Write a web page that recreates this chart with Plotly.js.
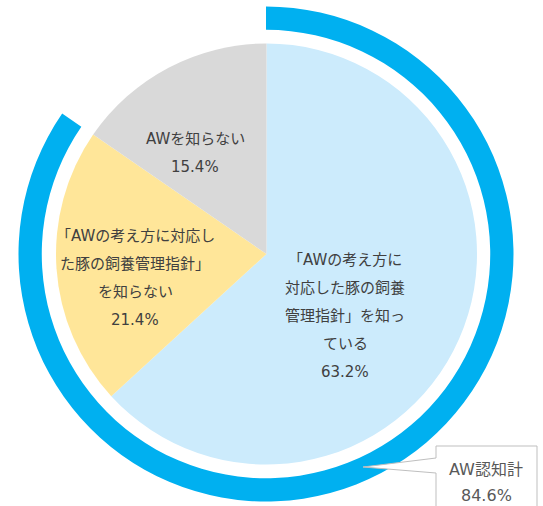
<!DOCTYPE html>
<html>
<head>
<meta charset="utf-8">
<script src="https://cdn.plot.ly/plotly-3.0.1.min.js"></script>
<style>
  html, body { margin: 0; padding: 0; background: #fff; }
  #chart { width: 543px; height: 506px; }
</style>
</head>
<body>
<div id="chart"></div>
<script>
// AW awareness pie: three answer shares plus an outer ring for the combined "aware" total.

const CATEGORIES = [
  ['「AWの考え方に', '対応した豚の飼養', '管理指針」を知っ', 'ている'],
  ['「AWの考え方に対応し', 'た豚の飼養管理指針」', 'を知らない'],
  ['AWを知らない'],
];
const SHARES = [63.2, 21.4, 15.4];
const COLORS = ['#CCEBFC', '#FFE699', '#D9D9D9'];

const RING_LABEL = 'AW認知計';
const RING_VALUES = [84.6, 15.4];   // aware total, remainder (not drawn)

const W = 543, H = 506;
const px = (x) => x / W;
const py = (y) => (H - y) / H;

const FONT = { family: 'DejaVu Sans, "Noto Sans CJK JP", sans-serif', size: 15, color: '#404040' };
const LINE_GAP = 28;

// label block centres in pixels (layout only)
const LABEL_POS = [[345, 316], [135, 278], [195, 153]];

const traces = [
  {
    type: 'pie',
    values: SHARES,
    labels: SHARES.map((_, i) => `c${i}`),
    marker: { colors: COLORS, line: { width: 0 } },
    sort: false, direction: 'clockwise', rotation: 0,
    textinfo: 'none', hoverinfo: 'skip',
    domain: { x: [px(56), px(477)], y: [py(464.5), py(43.5)] },
  },
  {
    type: 'pie',
    values: RING_VALUES,
    labels: ['aware', 'rest'],
    marker: { colors: ['#00B0F0', 'rgba(0,0,0,0)'], line: { width: 0 } },
    hole: 0.906,
    sort: false, direction: 'clockwise', rotation: 0,
    textinfo: 'none', hoverinfo: 'skip',
    domain: { x: [px(18.5), px(513.5)], y: [py(501.5), py(6.5)] },
  },
];

const annotations = [];
CATEGORIES.forEach((lines, i) => {
  const all = [...lines, `${SHARES[i].toFixed(1)}%`];
  const [cx, cy] = LABEL_POS[i];
  all.forEach((t, k) => {
    annotations.push({
      x: px(cx), y: py(cy), xref: 'paper', yref: 'paper',
      xanchor: 'center', yanchor: 'middle', showarrow: false,
      yshift: -(k - (all.length - 1) / 2) * LINE_GAP,
      text: t, font: FONT,
    });
  });
});

// callout text
[RING_LABEL, `${RING_VALUES[0].toFixed(1)}%`].forEach((t, k) => {
  annotations.push({
    x: px(486), y: py(469), xref: 'paper', yref: 'paper',
    xanchor: 'center', yanchor: 'middle', showarrow: false,
    yshift: -k * 26, text: t,
    font: { ...FONT, size: 16, color: '#595959' },
  });
});

// callout box with pointer to the ring
const pts = [[436, 458], [436, 446], [537, 446], [537, 530], [436, 530], [436, 473], [363, 467]];
const path = 'M ' + pts.map(([x, y]) => `${px(x)},${py(y)}`).join(' L ') + ' Z';
const shapes = [{
  type: 'path', xref: 'paper', yref: 'paper', path,
  line: { color: '#BFBFBF', width: 1 }, fillcolor: '#FFFFFF',
}];

const layout = {
  width: W, height: H,
  margin: { l: 0, r: 0, t: 0, b: 0 },
  paper_bgcolor: '#fff',
  showlegend: false,
  annotations, shapes,
  font: FONT,
};

Plotly.newPlot('chart', traces, layout, { displayModeBar: false, staticPlot: true });
</script>
</body>
</html>
